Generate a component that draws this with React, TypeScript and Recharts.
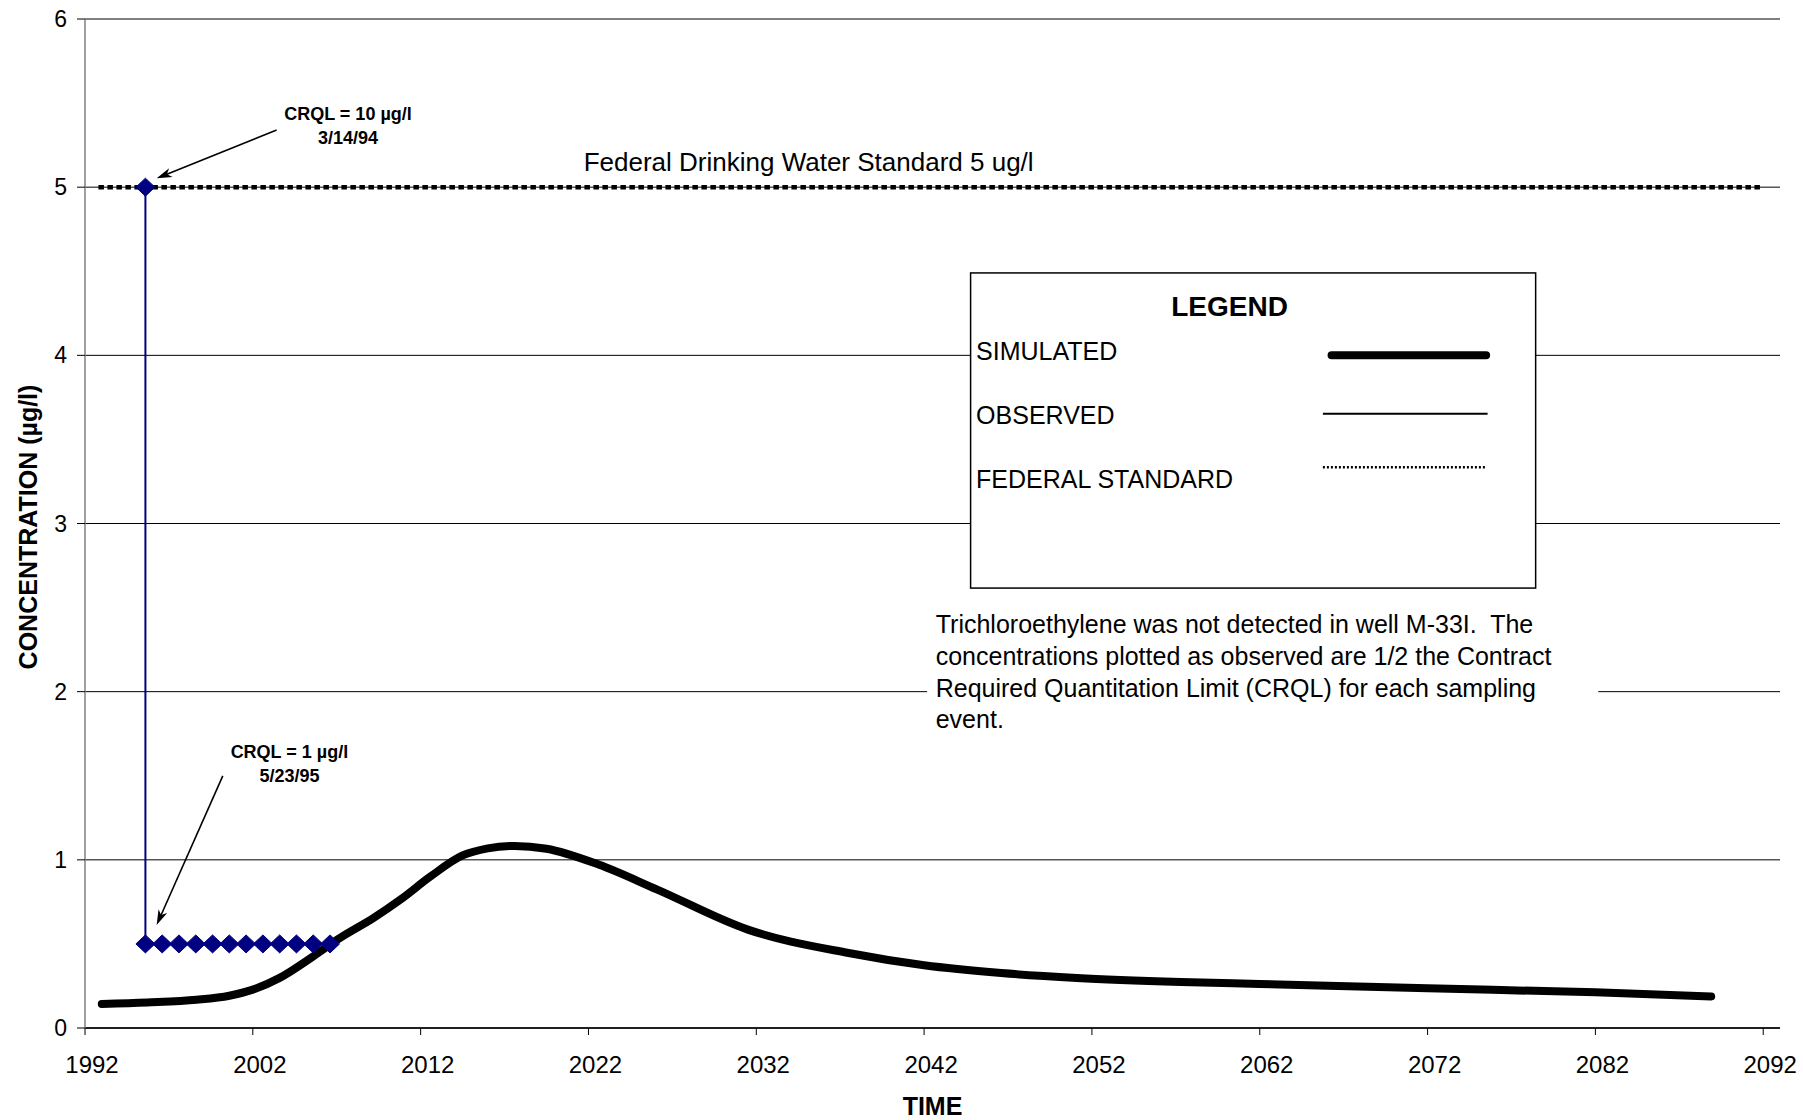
import React from 'react';
import {
  LineChart,
  Line,
  XAxis,
  YAxis,
  CartesianGrid,
  ReferenceArea,
  ReferenceLine,
  ReferenceDot,
} from 'recharts';

const FONT = '"Liberation Sans", Arial, Helvetica, sans-serif';

// Simulated TCE concentration at well M-33I (µg/l)
const simYears = [
  1993.0, 1995.7, 1998.65, 2000.6, 2002.0, 2003.6, 2005.6, 2007.2, 2009.2, 2010.8, 2012.6,
  2014.5, 2016.0, 2017.6, 2019.5, 2022.6, 2026.1, 2031.5, 2037.5, 2042.0, 2046.6, 2051.1,
  2057.3, 2062.0, 2072.0, 2082.0, 2088.9,
];
const simConc = [
  0.143, 0.152, 0.168, 0.192, 0.228, 0.298, 0.426, 0.536, 0.655, 0.764, 0.902,
  1.026, 1.068, 1.083, 1.066, 0.972, 0.823, 0.585, 0.446, 0.373, 0.327, 0.298,
  0.274, 0.262, 0.236, 0.212, 0.188,
];

// Observed values: 1/2 CRQL for each sampling event
const obsYears = [
  1995.6, 1995.6, 1996.6, 1997.6, 1998.6, 1999.6, 2000.6, 2001.6, 2002.6, 2003.6, 2004.6,
  2005.6, 2006.6,
];
const obsConc = [5, 0.5, 0.5, 0.5, 0.5, 0.5, 0.5, 0.5, 0.5, 0.5, 0.5, 0.5, 0.5];

// Federal drinking water standard
const stdYears = [1992.8, 2092];
const stdConc = [5, 5];

const xTicks = [1992, 2002, 2012, 2022, 2032, 2042, 2052, 2062, 2072, 2082, 2092];
const yTicks = [0, 1, 2, 3, 4, 5, 6];

const legendItems = ['SIMULATED', 'OBSERVED', 'FEDERAL STANDARD'];
const noteLines = [
  'Trichloroethylene was not detected in well M-33I.  The',
  'concentrations plotted as observed are 1/2 the Contract',
  'Required Quantitation Limit (CRQL) for each sampling',
  'event.',
];

const simData = simYears.map((t, i) => ({ t, c: simConc[i] }));
const obsData = obsYears.map((t, i) => ({ t, c: obsConc[i] }));
const stdData = stdYears.map((t, i) => ({ t, c: stdConc[i] }));

const NAVY = '#000080';

const Diamond = (props: any) => {
  const { cx, cy, index } = props;
  if (cx == null || cy == null) return <g key={`d-${index}`} />;
  return (
    <path
      key={`d-${index}`}
      d={`M${cx},${cy - 9}L${cx + 9.5},${cy}L${cx},${cy + 9}L${cx - 9.5},${cy}Z`}
      fill={NAVY}
      stroke={NAVY}
      strokeWidth={1}
    />
  );
};

const XTick = (props: any) => {
  const { x, y, payload } = props;
  return (
    <text x={x + 7} y={y} dy="0.71em" textAnchor="middle" fontSize={24} fill="#000" fontFamily={FONT}>
      {payload.value}
    </text>
  );
};

// arrow from (x1,y1) to the tip at (x2,y2)
const Arrow = (props: any) => {
  const { x1, y1, x2, y2 } = props;
  const ang = Math.atan2(y2 - y1, x2 - x1);
  const len = 16;
  const spread = 0.3;
  const ax = x2 - len * Math.cos(ang - spread);
  const ay = y2 - len * Math.sin(ang - spread);
  const bx = x2 - len * Math.cos(ang + spread);
  const by = y2 - len * Math.sin(ang + spread);
  const nx = x2 - 11 * Math.cos(ang);
  const ny = y2 - 11 * Math.sin(ang);
  return (
    <g>
      <line x1={x1} y1={y1} x2={nx} y2={ny} stroke="#000" strokeWidth={1.6} />
      <path d={`M${x2},${y2}L${ax},${ay}L${nx},${ny}L${bx},${by}Z`} fill="#000" />
    </g>
  );
};

const twoLineLabel = (first: string, second: string) => (props: any) => {
  const { cx, cy } = props;
  return (
    <text x={cx} y={cy} textAnchor="middle" fontSize={18} fontWeight="bold" fontFamily={FONT} fill="#000">
      <tspan x={cx} y={cy}>{first}</tspan>
      <tspan x={cx} y={cy + 24}>{second}</tspan>
    </text>
  );
};

const StdLabel = (props: any) => {
  const { cx, cy } = props;
  return (
    <text x={cx} y={cy - 16} textAnchor="middle" fontSize={26} fontFamily={FONT} fill="#000">
      Federal Drinking Water Standard 5 ug/l
    </text>
  );
};

const LegendBox = (props: any) => {
  const { x, y, width, height } = props;
  const rows = [87.4, 151.4, 214.7];
  return (
    <g>
      <rect x={x} y={y} width={width} height={height} fill="#fff" stroke="#000" strokeWidth={1.5} />
      <text x={x + 259} y={y + 43.4} textAnchor="middle" fontSize={28} fontWeight="bold" fontFamily={FONT} fill="#000">
        LEGEND
      </text>
      {legendItems.map((name, i) => (
        <text key={name} x={x + 5.5} y={y + rows[i]} fontSize={25} fontFamily={FONT} fill="#000">
          {name}
        </text>
      ))}
      <line x1={x + 361} y1={y + 82.4} x2={x + 515.5} y2={y + 82.4} stroke="#000" strokeWidth={8} strokeLinecap="round" />
      <line x1={x + 352.3} y1={y + 140.7} x2={x + 517} y2={y + 140.7} stroke="#000" strokeWidth={2} />
      <line
        x1={x + 352.3}
        y1={y + 194.4}
        x2={x + 515.7}
        y2={y + 194.4}
        stroke="#000"
        strokeWidth={2.5}
        strokeDasharray="2 2"
      />
    </g>
  );
};

const NoteBox = (props: any) => {
  const { x, y, width, height } = props;
  return (
    <g>
      <rect x={x} y={y} width={width} height={height} fill="#fff" />
      {noteLines.map((line, i) => (
        <text
          key={i}
          x={x + 8.6}
          y={y + 33.5 + i * 31.8}
          fontSize={25}
          fontFamily={FONT}
          fill="#000"
          style={{ whiteSpace: 'pre' }}
        >
          {line}
        </text>
      ))}
    </g>
  );
};

export default function App() {
  return (
    <div style={{ position: 'absolute', left: 0, top: 0, background: '#fff', fontFamily: FONT }}>
      <LineChart width={1803} height={1120} margin={{ top: 19, right: 23, bottom: 0, left: 0 }}>
        <CartesianGrid vertical={false} stroke="#000" strokeWidth={1} />
        <XAxis
          type="number"
          dataKey="t"
          domain={[1992, 2093]}
          allowDataOverflow
          ticks={xTicks}
          height={92}
          tickSize={7}
          tickMargin={21}
          axisLine={{ stroke: '#000', strokeWidth: 1.5 }}
          tickLine={{ stroke: '#000' }}
          tick={<XTick />}
          label={{
            content: (p: any) => {
              const vb = p.viewBox || { x: 85, y: 1028, width: 1695 };
              return (
                <text
                  x={vb.x + vb.width / 2}
                  y={vb.y + 87}
                  textAnchor="middle"
                  fontSize={25}
                  fontWeight="bold"
                  fontFamily={FONT}
                  fill="#000"
                >
                  TIME
                </text>
              );
            },
          }}
        />
        <YAxis
          type="number"
          domain={[0, 6]}
          ticks={yTicks}
          width={85}
          tickSize={8}
          tickMargin={10}
          axisLine={{ stroke: '#808080', strokeWidth: 1.5 }}
          tickLine={{ stroke: '#000' }}
          tick={{ fill: '#000', fontSize: 23, fontFamily: FONT }}
          label={{
            content: (p: any) => {
              const vb = p.viewBox || { x: 0, y: 19, height: 1009 };
              const cy = vb.y + vb.height / 2 + 3.5;
              return (
                <text
                  transform={`translate(36.5, ${cy}) rotate(-90)`}
                  textAnchor="middle"
                  fontSize={25}
                  fontWeight="bold"
                  fontFamily={FONT}
                  fill="#000"
                >
                  CONCENTRATION (µg/l)
                </text>
              );
            },
          }}
        />

        <ReferenceArea x1={2044.77} x2={2078.44} y1={2.616} y2={4.49} shape={LegendBox} />
        <ReferenceArea x1={2042.18} x2={2082.17} y1={1.685} y2={2.548} shape={NoteBox} />

        <Line
          data={simData}
          dataKey="c"
          type="monotone"
          stroke="#000"
          strokeWidth={8}
          strokeLinecap="round"
          strokeLinejoin="round"
          dot={false}
          activeDot={false}
          isAnimationActive={false}
        />
        <Line
          data={stdData}
          dataKey="c"
          type="linear"
          stroke="#000"
          strokeWidth={4.5}
          strokeDasharray="5.5 3.5"
          dot={false}
          activeDot={false}
          isAnimationActive={false}
        />
        <Line
          data={obsData}
          dataKey="c"
          type="linear"
          stroke={NAVY}
          strokeWidth={2}
          dot={Diamond}
          activeDot={false}
          isAnimationActive={false}
        />

        <ReferenceDot x={2035.12} y={5} r={0} shape={StdLabel} />
        <ReferenceDot x={2007.67} y={5.4} r={0} shape={twoLineLabel('CRQL = 10 µg/l', '3/14/94')} />
        <ReferenceDot x={2004.18} y={1.607} r={0} shape={twoLineLabel('CRQL = 1 µg/l', '5/23/95')} />
        <ReferenceLine
          segment={[
            { x: 2003.42, y: 5.34 },
            { x: 1996.27, y: 5.053 },
          ]}
          shape={Arrow}
        />
        <ReferenceLine
          segment={[
            { x: 2000.21, y: 1.499 },
            { x: 1996.27, y: 0.612 },
          ]}
          shape={Arrow}
        />
      </LineChart>
    </div>
  );
}
